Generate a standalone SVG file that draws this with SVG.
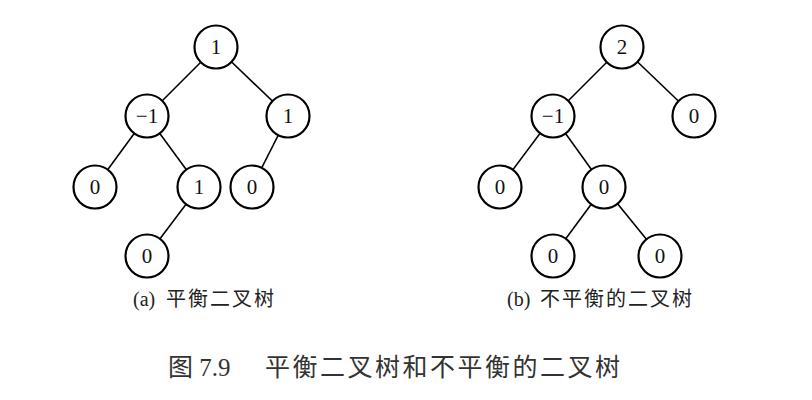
<svg xmlns="http://www.w3.org/2000/svg" width="812" height="400" viewBox="0 0 812 400">
<style>
.n circle{fill:#fff;stroke:#000;stroke-width:2.2}
.n text{font-family:"Liberation Serif","Noto Sans CJK SC",serif;font-size:21px;text-anchor:middle;fill:#111}
#edges line{stroke:#000;stroke-width:1.6}
.cap{font-family:"Liberation Serif","Noto Sans CJK SC",serif;font-size:20px;fill:#222}
.cj{letter-spacing:2px}
.title{font-family:"Liberation Serif","Noto Sans CJK SC",serif;font-size:25px;fill:#333}
</style>
<rect width="812" height="400" fill="#fff"/>
<g id="edges">
<line x1="216" y1="47" x2="147" y2="116"/>
<line x1="216" y1="47" x2="288" y2="116"/>
<line x1="147" y1="116" x2="95" y2="187"/>
<line x1="147" y1="116" x2="199" y2="187"/>
<line x1="288" y1="116" x2="252" y2="187"/>
<line x1="199" y1="187" x2="147" y2="256"/>
<line x1="622" y1="47" x2="553" y2="116"/>
<line x1="622" y1="47" x2="694" y2="116"/>
<line x1="553" y1="116" x2="500" y2="187"/>
<line x1="553" y1="116" x2="604" y2="187"/>
<line x1="604" y1="187" x2="553" y2="256"/>
<line x1="604" y1="187" x2="660" y2="256"/>
</g>
<g id="a1" class="n"><circle cx="216" cy="47" r="21.5"/><text x="216" y="54">1</text></g>
<g id="a2" class="n"><circle cx="147" cy="116" r="21.5"/><text x="147" y="123">−1</text></g>
<g id="a3" class="n"><circle cx="288" cy="116" r="21.5"/><text x="288" y="123">1</text></g>
<g id="a4" class="n"><circle cx="95" cy="187" r="21.5"/><text x="95" y="194">0</text></g>
<g id="a5" class="n"><circle cx="199" cy="187" r="21.5"/><text x="199" y="194">1</text></g>
<g id="a6" class="n"><circle cx="252" cy="187" r="21.5"/><text x="252" y="194">0</text></g>
<g id="a7" class="n"><circle cx="147" cy="256" r="21.5"/><text x="147" y="263">0</text></g>
<g id="b1" class="n"><circle cx="622" cy="47" r="21.5"/><text x="622" y="54">2</text></g>
<g id="b2" class="n"><circle cx="553" cy="116" r="21.5"/><text x="553" y="123">−1</text></g>
<g id="b3" class="n"><circle cx="694" cy="116" r="21.5"/><text x="694" y="123">0</text></g>
<g id="b4" class="n"><circle cx="500" cy="187" r="21.5"/><text x="500" y="194">0</text></g>
<g id="b5" class="n"><circle cx="604" cy="187" r="21.5"/><text x="604" y="194">0</text></g>
<g id="b6" class="n"><circle cx="553" cy="256" r="21.5"/><text x="553" y="263">0</text></g>
<g id="b7" class="n"><circle cx="660" cy="256" r="21.5"/><text x="660" y="263">0</text></g>
<text class="cap" x="133" y="306">(a) <tspan class="cj" x="166">平衡二叉树</tspan></text>
<text class="cap" x="507" y="306">(b) <tspan class="cj" x="540">不平衡的二叉树</tspan></text>
<text class="title" x="168" y="376">图 7.9</text>
<text class="title" x="265" y="376" style="letter-spacing:2.5px">平衡二叉树和不平衡的二叉树</text>
</svg>
